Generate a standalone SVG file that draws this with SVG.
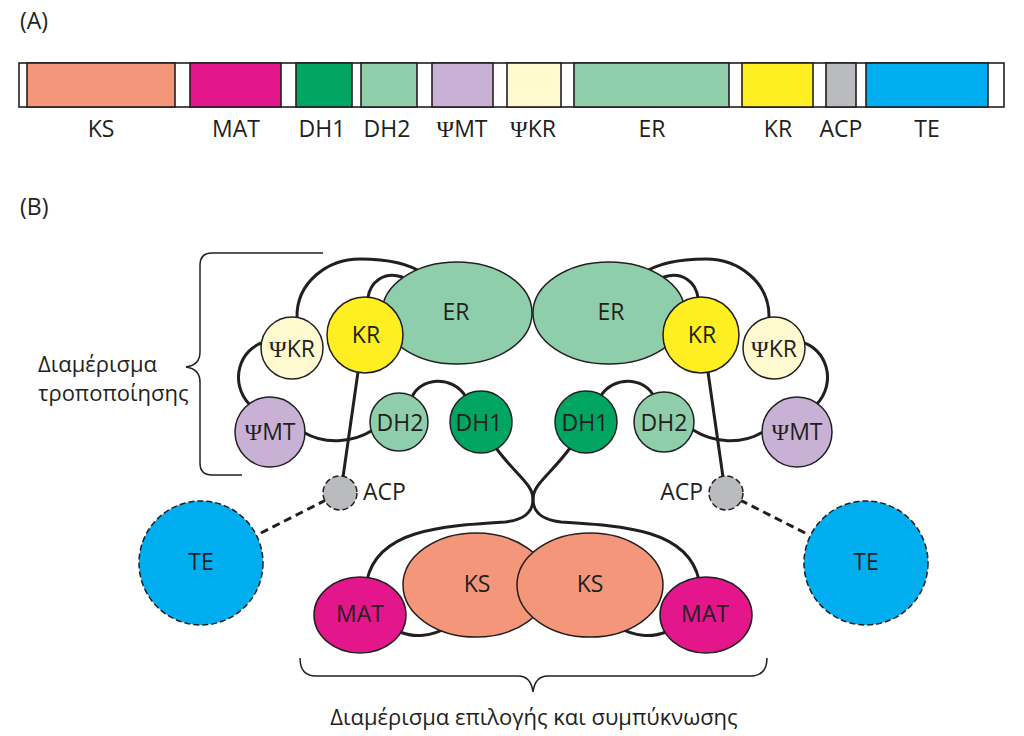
<svg xmlns="http://www.w3.org/2000/svg" width="1024" height="736" viewBox="0 0 1024 736">
<style>
text{font-family:"Open Sans","Liberation Sans",sans-serif;font-size:23px;fill:#231F20;text-anchor:middle}
.ps{font-family:"Liberation Serif","DejaVu Serif",serif;font-size:24px}
.lt{text-anchor:start}
.rt{text-anchor:end}
.sm{font-size:22px}
.seg{stroke:#231F20;stroke-width:1.6}
.n{stroke:#231F20;stroke-width:1.5}
.d{stroke:#231F20;stroke-width:1.5;stroke-dasharray:6 3}
.c{fill:none;stroke:#231F20;stroke-width:3;stroke-linecap:round}
.cd{fill:none;stroke:#231F20;stroke-width:3;stroke-dasharray:8 5}
.br{fill:none;stroke:#231F20;stroke-width:1.5}
.ks{fill:#F4967A}.mat{fill:#E4168C}.dh1{fill:#00A562}.dh2{fill:#8FCEAA}.pmt{fill:#C9B1D5}.pkr{fill:#FFF9CF}.er{fill:#8FCEAA}.kr{fill:#FFEF22}.acp{fill:#B9BBBE}.te{fill:#00AEEF}
</style>
<rect width="1024" height="736" fill="#fff"/>
<!-- Part A -->
<text x="20" y="29" class="lt">(A)</text>
<g id="bar">
<rect x="19" y="63" width="985" height="44" fill="#fff" class="seg"/>
<rect x="27" y="63" width="148" height="44" class="seg ks"/>
<rect x="190" y="63" width="91" height="44" class="seg mat"/>
<rect x="296" y="63" width="56" height="44" class="seg dh1"/>
<rect x="361" y="63" width="56" height="44" class="seg dh2"/>
<rect x="432" y="63" width="61" height="44" class="seg pmt"/>
<rect x="507" y="63" width="54" height="44" class="seg pkr"/>
<rect x="574" y="63" width="155" height="44" class="seg er"/>
<rect x="742" y="63" width="71" height="44" class="seg kr"/>
<rect x="826" y="63" width="30" height="44" class="seg acp"/>
<rect x="866" y="63" width="122" height="44" class="seg te"/>
</g>
<g id="bar-labels">
<text x="101" y="137">KS</text>
<text x="236" y="137">MAT</text>
<text x="322" y="137">DH1</text>
<text x="387" y="137">DH2</text>
<text x="462" y="137"><tspan class="ps">Ψ</tspan>MT</text>
<text x="533" y="137"><tspan class="ps">Ψ</tspan>KR</text>
<text x="652" y="137">ER</text>
<text x="778" y="137">KR</text>
<text x="841" y="137">ACP</text>
<text x="927" y="137">TE</text>
</g>
<!-- Part B -->
<text x="20" y="215" class="lt">(B)</text>
<g id="connectors">
<!-- left -->
<path class="c" d="M297 318 C296 282 328 259 360 259 C390 259 410 264 424 274"/>
<path class="c" d="M368 298 C370 282 384 271 402 277"/>
<path class="c" d="M265 342 C240 348 228 382 250 405"/>
<path class="c" d="M303 432 C325 445 352 443 373 430"/>
<path class="c" d="M358 372 L343 477"/>
<path class="c" d="M412 397 C420 378 452 374 466 397"/>
<path class="c" d="M496 448 C515 474 533 484 533 499 C533 514 522 520 505 522 C440 526 378 530 367 580"/>
<path class="cd" d="M326 500 L257 535"/>
<path class="c" d="M400 632 C415 638 432 636 446 628"/>
<!-- right -->
<path class="c" d="M769 318 C770 282 738 259 706 259 C676 259 656 264 642 274"/>
<path class="c" d="M698 298 C696 282 682 271 664 277"/>
<path class="c" d="M801 342 C826 348 838 382 816 405"/>
<path class="c" d="M763 432 C741 445 714 443 693 430"/>
<path class="c" d="M708 372 L723 477"/>
<path class="c" d="M654 397 C646 378 614 374 600 397"/>
<path class="c" d="M570 448 C551 474 533 484 533 499 C533 514 544 520 561 522 C626 526 688 530 699 580"/>
<path class="cd" d="M740 500 L809 535"/>
<path class="c" d="M666 632 C651 638 634 636 620 628"/>
</g>
<g id="brace-left">
<path class="br" d="M323 253 H212 Q200 253 200 265 V352 Q200 365 186 367 Q200 369 200 382 V463 Q200 475 212 475 H242"/>
<text x="38" y="372" class="lt sm">Διαμέρισμα</text>
<text x="38" y="401" class="lt sm">τροποποίησης</text>
</g>
<g id="brace-bottom">
<path class="br" d="M300 658 Q300 676 316 676 H518 Q531 676 533 692 Q535 676 548 676 H750 Q767 676 767 658"/>
<text x="534" y="725" class="sm">Διαμέρισμα επιλογής και συμπύκνωσης</text>
</g>
<g id="er-left"><ellipse cx="457" cy="313" rx="75" ry="51" class="n er"/><text x="456" y="320">ER</text></g>
<g id="er-right"><ellipse cx="609" cy="313" rx="76" ry="51" class="n er"/><text x="611" y="320">ER</text></g>
<g id="kr-left"><circle cx="365" cy="335" r="38" class="n kr"/><text x="366" y="343">KR</text></g>
<g id="kr-right"><circle cx="701" cy="335" r="38" class="n kr"/><text x="702" y="343">KR</text></g>
<g id="psikr-left"><circle cx="292" cy="348" r="31" class="n pkr"/><text x="292" y="357"><tspan class="ps">Ψ</tspan>KR</text></g>
<g id="psikr-right"><circle cx="774" cy="348" r="31" class="n pkr"/><text x="774" y="357"><tspan class="ps">Ψ</tspan>KR</text></g>
<g id="psimt-left"><circle cx="270" cy="432" r="35" class="n pmt"/><text x="270" y="440"><tspan class="ps">Ψ</tspan>MT</text></g>
<g id="psimt-right"><circle cx="797" cy="432" r="35" class="n pmt"/><text x="797" y="440"><tspan class="ps">Ψ</tspan>MT</text></g>
<g id="dh2-left"><circle cx="399" cy="422" r="29" class="n dh2"/><text x="400" y="431">DH2</text></g>
<g id="dh1-left"><circle cx="481" cy="422" r="31" class="n dh1"/><text x="479" y="431">DH1</text></g>
<g id="dh1-right"><circle cx="586" cy="422" r="31" class="n dh1"/><text x="585" y="431">DH1</text></g>
<g id="dh2-right"><circle cx="664" cy="422" r="30" class="n dh2"/><text x="664" y="431">DH2</text></g>
<g id="acp-left"><circle cx="340" cy="493" r="17" class="d acp"/><text x="363" y="500" class="lt">ACP</text></g>
<g id="acp-right"><circle cx="726" cy="493" r="17" class="d acp"/><text x="703" y="500" class="rt">ACP</text></g>
<g id="te-left"><circle cx="201" cy="563" r="62" class="d te"/><text x="201" y="570">TE</text></g>
<g id="te-right"><circle cx="866" cy="563" r="62" class="d te"/><text x="866" y="570">TE</text></g>
<g id="ks-left"><ellipse cx="476" cy="585" rx="73" ry="52" class="n ks"/><text x="477" y="592">KS</text></g>
<g id="ks-right"><ellipse cx="590" cy="585" rx="73" ry="52" class="n ks"/><text x="590" y="592">KS</text></g>
<g id="mat-left"><ellipse cx="360" cy="615" rx="46" ry="38" class="n mat"/><text x="360" y="622">MAT</text></g>
<g id="mat-right"><ellipse cx="706" cy="615" rx="46" ry="38" class="n mat"/><text x="705" y="622">MAT</text></g>
</svg>
